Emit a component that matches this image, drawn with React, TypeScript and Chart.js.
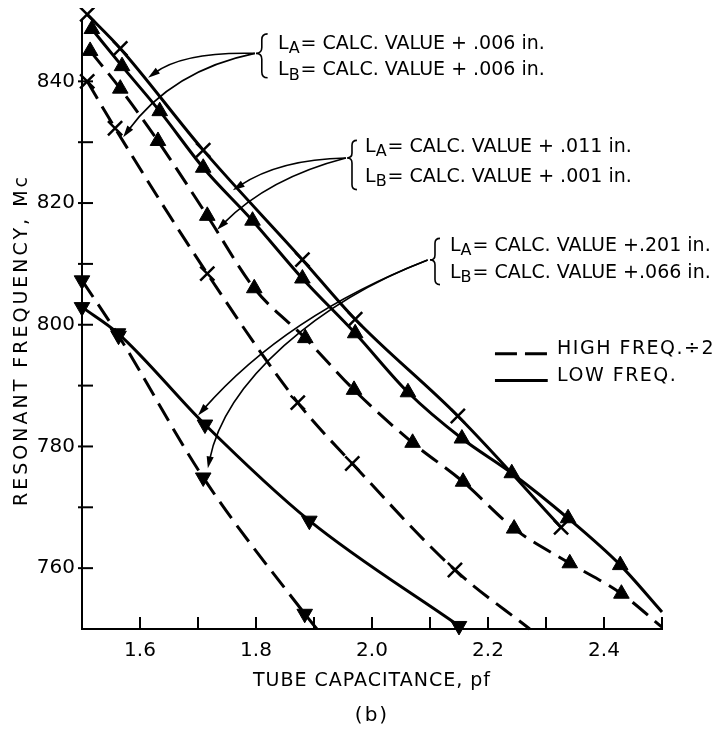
import React, { useEffect, useRef } from "react";
import { Chart, registerables } from "chart.js";

Chart.register(...registerables);

const FONT = '"DejaVu Sans", "Liberation Sans", sans-serif';

// ---- Tick labels ----
const X_TICK_LABELS = ["1.6", "1.8", "2.0", "2.2", "2.4"];
const Y_TICK_LABELS = ["760", "780", "800", "820", "840"];

// ---- Group 1: LA = +.006 in., LB = +.006 in. (× markers) ----
const low1X = [1.509, 1.566, 1.709, 1.880, 1.971, 2.148, 2.326];
const low1Y = [851.0, 845.4, 828.7, 810.7, 800.9, 785.0, 766.7];
const low1EndX: number[] = [];
const low1EndY: number[] = [];
const high1X = [1.509, 1.557, 1.716, 1.872, 1.966, 2.143];
const high1Y = [840.0, 832.3, 808.4, 787.2, 777.2, 759.7];
const high1EndX = [2.272];
const high1EndY = [750.0];

// ---- Group 2: LA = +.011 in., LB = +.001 in. (▲ markers) ----
const low2X = [1.517, 1.569, 1.634, 1.709, 1.794, 1.880, 1.971, 2.062, 2.155, 2.241, 2.338, 2.428];
const low2Y = [848.6, 842.5, 835.1, 825.8, 817.1, 807.6, 798.6, 788.9, 781.3, 775.6, 768.2, 760.5];
const low2EndX = [2.5];
const low2EndY = [752.8];
const high2X = [1.514, 1.566, 1.631, 1.716, 1.797, 1.885, 1.969, 2.070, 2.157, 2.245, 2.341, 2.430];
const high2Y = [845.0, 838.8, 830.2, 817.9, 806.0, 797.8, 789.3, 780.6, 774.2, 766.5, 760.8, 755.8];
const high2EndX = [2.5];
const high2EndY = [750.3];

// ---- Group 3: LA = +.201 in., LB = +.066 in. (▼ markers) ----
const low3X = [1.500, 1.562, 1.712, 1.892, 2.150];
const low3Y = [802.9, 798.6, 783.6, 767.8, 750.5];
const low3EndX: number[] = [];
const low3EndY: number[] = [];
const high3X = [1.500, 1.563, 1.709, 1.884];
const high3Y = [807.3, 798.2, 774.9, 752.5];
const high3EndX = [1.905];
const high3EndY = [750.0];

// ---- Annotation texts ----
const NOTE1_LINES: [string, string][] = [["A", "= CALC. VALUE + .006 in."], ["B", "= CALC. VALUE + .006 in."]];
const NOTE2_LINES: [string, string][] = [["A", "= CALC. VALUE + .011 in."], ["B", "= CALC. VALUE + .001 in."]];
const NOTE3_LINES: [string, string][] = [["A", "= CALC. VALUE +.201 in."], ["B", "= CALC. VALUE +.066 in."]];
const LEGEND_HIGH = "HIGH FREQ.÷2";
const LEGEND_LOW = "LOW FREQ.";
const X_TITLE = "TUBE CAPACITANCE, pf";
const Y_TITLE = "RESONANT FREQUENCY, Mc";
const SUB_TITLE = "(b)";

type XY = [number, number];

// annotation placement (in data units)
const NOTES = [
  {
    lines: NOTE1_LINES, textX: 1.838, lineY: [846.1, 841.8],
    brace: { x: 1.810, tipX: 1.800, top: 847.8, mid: 844.6, bot: 840.6 },
    arrows: [
      [[1.798, 844.6], [1.676, 844.9], [1.614, 840.6]],
      [[1.798, 844.6], [1.655, 841.8], [1.571, 830.8]],
    ] as XY[][],
  },
  {
    lines: NOTE2_LINES, textX: 1.988, lineY: [829.2, 824.3],
    brace: { x: 1.9655, tipX: 1.957, top: 830.3, mid: 827.4, bot: 822.2 },
    arrows: [
      [[1.955, 827.4], [1.841, 827.2], [1.760, 822.1]],
      [[1.955, 827.4], [1.821, 824.1], [1.733, 815.6]],
    ] as XY[][],
  },
  {
    lines: NOTE3_LINES, textX: 2.1345, lineY: [812.95, 808.5],
    brace: { x: 2.1086, tipX: 2.100, top: 814.2, mid: 810.66, bot: 806.6 },
    arrows: [
      [[2.096, 810.66], [1.852, 801.6], [1.700, 785.1]],
      [[2.096, 810.66], [1.910, 803.9], [1.747, 790.8], [1.717, 776.4]],
    ] as XY[][],
  },
];

const LEGEND_POS = { x0: 2.212, x1: 2.303, textX: 2.319, highY: 795.25, highTextY: 796.07, lowY: 790.82, lowTextY: 791.64 };

function pts(xs: number[], ys: number[]) {
  return xs.map((x, i) => ({ x, y: ys[i] }));
}

function series(xs: number[], ys: number[], ex: number[], ey: number[], dashed: boolean, style: string, rotation: number) {
  const n = xs.length;
  const cross = style === "crossRot";
  return {
    data: [...pts(xs, ys), ...pts(ex, ey)],
    borderColor: "#000",
    backgroundColor: "#000",
    borderWidth: 3,
    borderDash: dashed ? [20, 9] : [],
    pointStyle: style,
    pointRotation: rotation,
    pointRadius: (c: any) => (c.dataIndex < n ? (cross ? 10 : 9) : 0),
    pointBorderWidth: cross ? 2.5 : 1,
    pointBorderColor: "#000",
    pointBackgroundColor: "#000",
    cubicInterpolationMode: "monotone",
    fill: false,
    clip: false,
  };
}

function drawArrow(ctx: CanvasRenderingContext2D, p: number[][]) {
  const f = p[0];
  const to = p[p.length - 1];
  const prev = p[p.length - 2];
  const ang = Math.atan2(to[1] - prev[1], to[0] - prev[0]);
  const L = 12, W = 3.6;
  const c = Math.cos(ang), s = Math.sin(ang);
  const ex = to[0] - c * L * 0.7, ey = to[1] - s * L * 0.7;
  ctx.beginPath();
  ctx.moveTo(f[0], f[1]);
  if (p.length === 3) ctx.quadraticCurveTo(p[1][0], p[1][1], ex, ey);
  else if (p.length === 4) ctx.bezierCurveTo(p[1][0], p[1][1], p[2][0], p[2][1], ex, ey);
  else ctx.lineTo(ex, ey);
  ctx.stroke();
  ctx.beginPath();
  ctx.moveTo(to[0], to[1]);
  ctx.lineTo(to[0] - c * L - s * W, to[1] - s * L + c * W);
  ctx.lineTo(to[0] - c * L + s * W, to[1] - s * L - c * W);
  ctx.closePath();
  ctx.fill();
}

function drawBrace(ctx: CanvasRenderingContext2D, bx: number, tipX: number, top: number, mid: number, bot: number) {
  const w = bx - tipX;
  ctx.beginPath();
  ctx.moveTo(bx + w, top);
  ctx.quadraticCurveTo(bx, top, bx, top + w);
  ctx.lineTo(bx, mid - w);
  ctx.quadraticCurveTo(bx, mid, tipX, mid);
  ctx.quadraticCurveTo(bx, mid, bx, mid + w);
  ctx.lineTo(bx, bot - w);
  ctx.quadraticCurveTo(bx, bot, bx + w, bot);
  ctx.stroke();
}

function drawLText(ctx: CanvasRenderingContext2D, x: number, y: number, sub: string, rest: string) {
  ctx.textAlign = "left";
  ctx.textBaseline = "middle";
  ctx.font = `19px ${FONT}`;
  ctx.fillText("L", x, y);
  let w = ctx.measureText("L").width;
  ctx.font = `16px ${FONT}`;
  ctx.fillText(sub, x + w, y + 5);
  w += ctx.measureText(sub).width;
  ctx.font = `19px ${FONT}`;
  ctx.fillText(rest, x + w + 1, y);
}

const notesPlugin = {
  id: "notes",
  afterDraw(chart: any) {
    const { ctx, chartArea: a } = chart;
    const xs = chart.scales.x, ys = chart.scales.y;
    const P = (p: XY) => [xs.getPixelForValue(p[0]), ys.getPixelForValue(p[1])];
    ctx.save();
    ctx.strokeStyle = "#000";
    ctx.fillStyle = "#000";
    ctx.setLineDash([]);

    // inward tick marks
    ctx.lineWidth = 2;
    for (const t of xs.ticks) {
      if (t.value <= xs.min + 1e-6) continue;
      const px = xs.getPixelForValue(t.value);
      ctx.beginPath();
      ctx.moveTo(px, a.bottom);
      ctx.lineTo(px, a.bottom - 12);
      ctx.stroke();
    }
    for (const t of ys.ticks) {
      if (t.value <= ys.min + 1e-6 || t.value >= ys.max - 1e-6) continue;
      const py = ys.getPixelForValue(t.value);
      ctx.beginPath();
      ctx.moveTo(a.left - 4, py);
      ctx.lineTo(a.left + 11, py);
      ctx.stroke();
    }

    // annotations
    for (const n of NOTES) {
      ctx.lineWidth = 1.6;
      const b = n.brace;
      const bx = xs.getPixelForValue(b.x), tx = xs.getPixelForValue(b.tipX);
      drawBrace(ctx, bx, tx, ys.getPixelForValue(b.top), ys.getPixelForValue(b.mid), ys.getPixelForValue(b.bot));
      for (const ar of n.arrows) drawArrow(ctx, ar.map((q) => P(q)));
      n.lines.forEach((ln, i) => {
        drawLText(ctx, xs.getPixelForValue(n.textX), ys.getPixelForValue(n.lineY[i]), ln[0], ln[1]);
      });
    }

    // legend
    const lx0 = xs.getPixelForValue(LEGEND_POS.x0), lx1 = xs.getPixelForValue(LEGEND_POS.x1);
    ctx.lineWidth = 3;
    ctx.setLineDash([22, 8]);
    ctx.beginPath();
    ctx.moveTo(lx0, ys.getPixelForValue(LEGEND_POS.highY));
    ctx.lineTo(lx1, ys.getPixelForValue(LEGEND_POS.highY));
    ctx.stroke();
    ctx.setLineDash([]);
    ctx.beginPath();
    ctx.moveTo(lx0, ys.getPixelForValue(LEGEND_POS.lowY));
    ctx.lineTo(lx1, ys.getPixelForValue(LEGEND_POS.lowY));
    ctx.stroke();
    ctx.font = `19px ${FONT}`;
    (ctx as any).letterSpacing = "1.5px";
    ctx.textAlign = "left";
    ctx.textBaseline = "middle";
    ctx.fillText(LEGEND_HIGH, xs.getPixelForValue(LEGEND_POS.textX), ys.getPixelForValue(LEGEND_POS.highTextY));
    ctx.fillText(LEGEND_LOW, xs.getPixelForValue(LEGEND_POS.textX), ys.getPixelForValue(LEGEND_POS.lowTextY));

    // axis titles
    const cx = (a.left + a.right) / 2;
    (ctx as any).letterSpacing = "1px";
    ctx.textAlign = "center";
    ctx.fillText(X_TITLE, cx, a.bottom + 52);
    ctx.font = `20px ${FONT}`;
    (ctx as any).letterSpacing = "2px";
    ctx.fillText(SUB_TITLE, cx, a.bottom + 87);
    ctx.save();
    ctx.translate(14, ys.getPixelForValue(797.5));
    ctx.rotate(-Math.PI / 2);
    ctx.font = `19px ${FONT}`;
    (ctx as any).letterSpacing = "3px";
    ctx.fillText(Y_TITLE, 0, 0);
    ctx.restore();
    (ctx as any).letterSpacing = "0px";
    ctx.restore();
  },
};

export default function App() {
  const ref = useRef<HTMLCanvasElement | null>(null);
  useEffect(() => {
    if (!ref.current) return;
    Chart.defaults.font.family = FONT;
    Chart.defaults.color = "#000";
    const chart = new Chart(ref.current, {
      type: "line",
      data: {
        datasets: [
          series(low1X, low1Y, low1EndX, low1EndY, false, "crossRot", 0),
          series(high1X, high1Y, high1EndX, high1EndY, true, "crossRot", 0),
          series(low2X, low2Y, low2EndX, low2EndY, false, "triangle", 0),
          series(high2X, high2Y, high2EndX, high2EndY, true, "triangle", 0),
          series(low3X, low3Y, low3EndX, low3EndY, false, "triangle", 180),
          series(high3X, high3Y, high3EndX, high3EndY, true, "triangle", 180),
        ] as any,
      },
      options: {
        animation: false,
        responsive: true,
        maintainAspectRatio: false,
        devicePixelRatio: 1,
        events: [],
        layout: { padding: { top: 11, right: 54, bottom: 59, left: 0 } },
        plugins: { legend: { display: false }, tooltip: { enabled: false }, title: { display: false } },
        scales: {
          x: {
            type: "linear",
            min: 1.5,
            max: 2.5,
            grid: { display: false, drawTicks: false },
            border: { display: true, color: "#000", width: 2 },
            ticks: {
              stepSize: 0.1,
              autoSkip: false,
              maxRotation: 0,
              padding: 10,
              color: "#000",
              font: { size: 20, family: FONT },
              callback: (v: any) => {
                const s = (Math.round(Number(v) * 10) / 10).toFixed(1);
                return X_TICK_LABELS.includes(s) ? s : "";
              },
            },
            afterFit: (s: any) => {
              s.height = 40;
              s.paddingLeft = 0;
              s.paddingRight = 0;
            },
          },
          y: {
            type: "linear",
            min: 750,
            max: 850,
            grid: { display: false, drawTicks: false },
            border: { display: true, color: "#000", width: 2 },
            ticks: {
              stepSize: 10,
              autoSkip: false,
              padding: 7,
              color: "#000",
              font: { size: 20, family: FONT },
              callback: (v: any) => {
                const s = String(Math.round(Number(v)));
                return Y_TICK_LABELS.includes(s) ? s : "";
              },
            },
            afterFit: (s: any) => {
              s.width = 74;
              s.paddingTop = 0;
              s.paddingBottom = 0;
            },
          },
        },
      } as any,
      plugins: [notesPlugin],
    });
    return () => chart.destroy();
  }, []);
  return (
    <div style={{ width: 708, height: 720, position: "relative" }}>
      <canvas ref={ref} />
    </div>
  );
}
